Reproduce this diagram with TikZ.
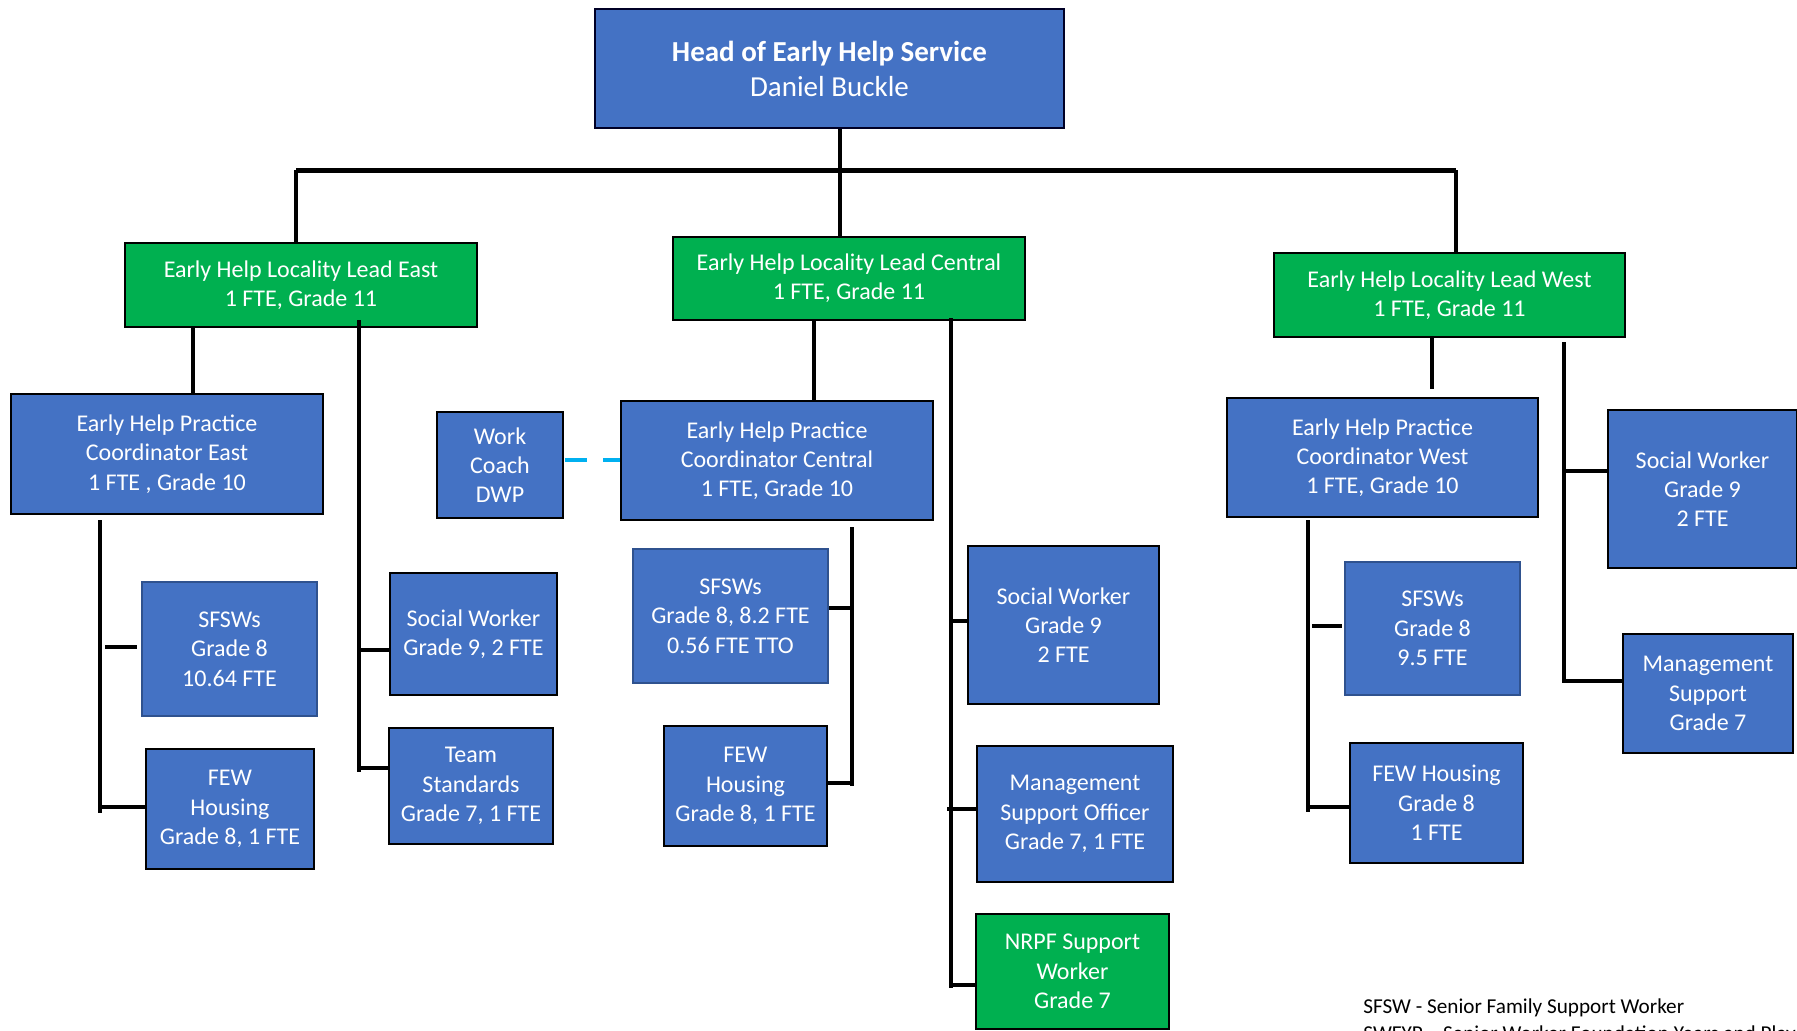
\documentclass[tikz,border=0pt]{standalone}
\usepackage{fontspec}
\setmainfont{Carlito}
\definecolor{boxblue}{HTML}{4472C4}
\definecolor{boxgreen}{HTML}{00B050}
\definecolor{dashcyan}{HTML}{00B0F0}
\definecolor{sfborder}{HTML}{2F528F}
\begin{document}
\begin{tikzpicture}[x=0.5pt,y=-0.5pt,
  box/.style={draw=black, line width=1pt, fill=boxblue, text=white, align=center,
    inner sep=0pt, font=\fontsize{12}{14.65}\selectfont},
  greenbox/.style={box, fill=boxgreen},
  sfbox/.style={box, draw=sfborder},
  wh/.style 2 args={minimum width=#1*0.5pt, minimum height=#2*0.5pt},
  conn/.style={line width=2.25pt, draw=black},
  dwp/.style={line width=2pt, draw=dashcyan, dash pattern=on 11pt off 8pt},
  legend/.style={anchor=base west, inner sep=0pt, text=black, font=\fontsize{10.6}{13}\selectfont}]
\fill[white] (0,0) rectangle (1797,1030);
\useasboundingbox (0,0) rectangle (1797,1030);

% ---- nodes ----
\node[box, draw=black!85!blue, wh={469}{119}, font=\fontsize{14.5}{17.5}\selectfont] (head) at (829.5,68.5)
  {\textbf{Head of Early Help Service}\\Daniel Buckle};

\node[greenbox, wh={352}{84}] (eastlead) at (301,285) {Early Help Locality Lead East\\1 FTE, Grade 11};
\node[greenbox, wh={352}{83}] (centlead) at (849,278.5) {Early Help Locality Lead Central\\1 FTE, Grade 11};
\node[greenbox, wh={351}{84}] (westlead) at (1449.5,295) {Early Help Locality Lead West\\1 FTE, Grade 11};

\node[box, wh={312}{120}] (ehpce) at (167,454) {Early Help Practice\\Coordinator East\\1 FTE , Grade 10};
\node[box, wh={126}{106}] (wcoach) at (500,465) {Work\\Coach\\DWP};
\node[box, wh={312}{119}] (ehpcc) at (777,460.5) {Early Help Practice\\Coordinator Central\\1 FTE, Grade 10};
\node[box, wh={311}{119}] (ehpcw) at (1382.5,457.5) {Early Help Practice\\Coordinator West\\1 FTE, Grade 10};

\node[box, wh={189}{158}] (sww) at (1702.5,489) {Social Worker\\Grade 9\\2 FTE};
\node[box, wh={170}{119}] (msw) at (1708,693.5) {Management\\Support\\Grade 7};

\node[sfbox, wh={175}{134}] (sfe) at (229.5,649) {SFSWs\\Grade 8\\10.64 FTE};
\node[box, wh={168}{120}] (fewe) at (230,809) {FEW\\Housing\\Grade 8, 1 FTE};
\node[box, wh={167}{122}] (swe) at (473.5,634) {Social Worker\\Grade 9, 2 FTE};
\node[box, wh={164}{116}] (team) at (471,786) {Team\\Standards\\Grade 7, 1 FTE};

\node[sfbox, wh={195}{134}] (sfc) at (730.5,616) {SFSWs\\Grade 8, 8.2 FTE\\0.56 FTE TTO};
\node[box, wh={163}{120}] (fewc) at (745.5,786) {FEW\\Housing\\Grade 8, 1 FTE};
\node[box, wh={191}{158}] (swc) at (1063.5,625) {Social Worker\\Grade 9\\2 FTE};
\node[box, wh={196}{136}] (mso) at (1075,814) {Management\\Support Officer\\Grade 7, 1 FTE};
\node[greenbox, wh={193}{115}] (nrpf) at (1072.5,971.5) {NRPF Support\\Worker\\Grade 7};

\node[sfbox, wh={175}{133}] (sfw) at (1432.5,628.5) {SFSWs\\Grade 8\\9.5 FTE};
\node[box, wh={173}{120}] (feww) at (1436.5,803) {FEW Housing\\Grade 8\\1 FTE};

\node[legend] (leg1) at (1363,1013) {SFSW - Senior Family Support Worker};
\node[legend] (leg2) at (1363,1040) {SWFYP – Senior Worker Foundation Years and Play};

% ---- top level connectors ----
\coordinate (barL) at (296,170);
\coordinate (barC) at (840,170);
\coordinate (barR) at (1456,170);
\draw[conn, line width=2.5pt] (barL) -- (barR);
\draw[conn] (head.south -| barC) -- (barC);
\draw[conn] (barC) -- (barC |- centlead.north);
\draw[conn] (barL) -- (barL |- eastlead.north);
\draw[conn] (barR) -- (barR |- westlead.north);

% ---- East ----
\draw[conn] (eastlead.south -| 193,0) -- (ehpce.north -| 193,0);
\coordinate (etT) at (359,320);
\coordinate (etB) at (359,772);
\draw[conn] (etT) -- (etB);
\draw[conn] (359,650) -- (swe.west |- 0,650);
\draw[conn] (359,768) -- (team.west |- 0,768);
\coordinate (ecT) at (100,520);
\coordinate (ecB) at (100,813);
\draw[conn] (ecT) -- (ecB);
\draw[conn] (105,647) -- (137,647);
\draw[conn] (100,807) -- (fewe.west |- 0,807);

% ---- Central ----
\draw[conn] (centlead.south -| 814,0) -- (ehpcc.north -| 814,0);
\coordinate (dwpS) at (565,460);
\draw[dwp] (dwpS) -- (ehpcc.west |- dwpS);
\coordinate (ccT) at (852,527);
\coordinate (ccB) at (852,786);
\draw[conn] (ccT) -- (ccB);
\draw[conn] (sfc.east |- 0,608) -- (852,608);
\draw[conn] (fewc.east |- 0,783) -- (852,783);
\coordinate (crT) at (951,318);
\coordinate (crB) at (951,988);
\draw[conn] (crT) -- (crB);
\draw[conn] (951,621) -- (swc.west |- 0,621);
\draw[conn] (947,809) -- (mso.west |- 0,809);
\draw[conn] (951,985) -- (nrpf.west |- 0,985);

% ---- West ----
\draw[conn] (westlead.south -| 1432,0) -- (1432,389);
\coordinate (wrT) at (1564,342);
\coordinate (wrB) at (1564,683);
\draw[conn] (wrT) -- (wrB);
\draw[conn] (1564,471) -- (sww.west |- 0,471);
\draw[conn] (1564,681) -- (msw.west |- 0,681);
\coordinate (wcT) at (1308,520);
\coordinate (wcB) at (1308,812);
\draw[conn] (wcT) -- (wcB);
\draw[conn] (1312,626) -- (1342,626);
\draw[conn] (1308,807) -- (feww.west |- 0,807);
\end{tikzpicture}
\end{document}
